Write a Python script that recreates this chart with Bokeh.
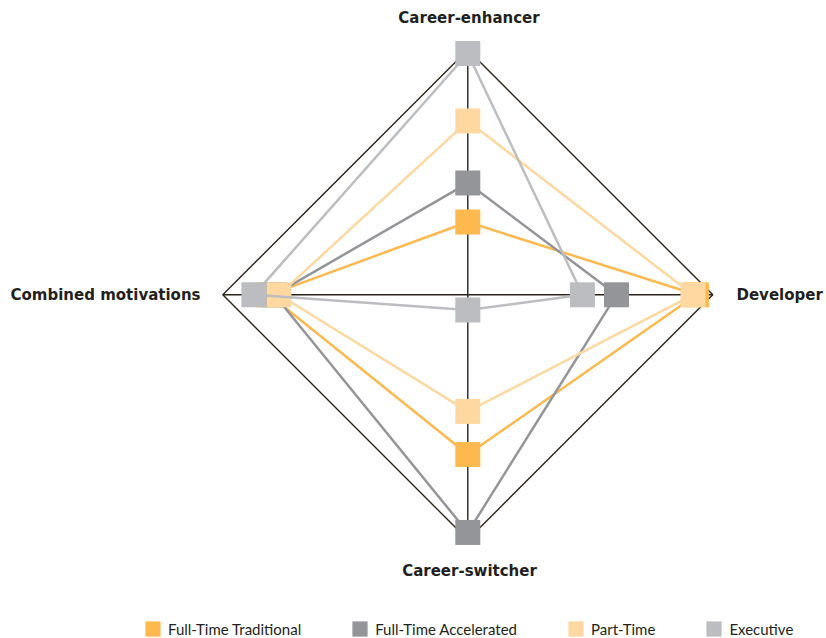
from bokeh.plotting import figure
from bokeh.models import Range1d, Legend, LegendItem, ColumnDataSource
from bokeh.core.properties import value
from bokeh.embed import file_html
from bokeh.resources import INLINE

# Four motivation axes, clockwise from the top
axis_labels = ["Career-enhancer", "Developer", "Career-switcher", "Combined motivations"]
axis_dx = [0, 1, 0, -1]
axis_dy = [1, 0, -1, 0]

# Share of each program type on each axis (outer diamond = 1.0)
series_names = ["Full-Time Traditional", "Full-Time Accelerated", "Part-Time", "Executive"]
full_time_traditional = [0.297, 0.933, 0.652, 0.811]
full_time_accelerated = [0.456, 0.607, 0.970, 0.790]
part_time = [0.709, 0.919, 0.476, 0.771]
executive = [0.985, 0.468, 0.062, 0.873]
series_values = [full_time_traditional, full_time_accelerated, part_time, executive]
series_colors = ["#FDB94E", "#939598", "#FED8A0", "#BCBDC0"]

INK = "#2b2318"
TEXT = "#231f20"

W, H = 826, 638
R_PX = 245.0          # pixels per unit radius
CX, CY = 467.3, 294.3  # centre of the diamond in screen pixels

p = figure(
    width=W, height=H,
    x_range=Range1d(-CX / R_PX, (W - CX) / R_PX),
    y_range=Range1d(-(H - CY) / R_PX, CY / R_PX),
    x_axis_location=None, y_axis_location=None,
    toolbar_location=None, output_backend="svg",
    min_border=0, outline_line_color=None,
)
p.xgrid.visible = False
p.ygrid.visible = False

# Cross axes
p.multi_line(
    xs=[[-1, 1], [0, 0]], ys=[[0, 0], [-1, 1]],
    line_color=INK, line_width=1.4,
)

# Outer diamond
p.line(
    x=axis_dx + [axis_dx[0]], y=axis_dy + [axis_dy[0]],
    line_color=INK, line_width=1.4,
)

# Each program: closed outline plus square markers on every axis
for name, vals, color in zip(series_names, series_values, series_colors):
    xs = [v * dx for v, dx in zip(vals, axis_dx)]
    ys = [v * dy for v, dy in zip(vals, axis_dy)]
    p.line(x=xs + [xs[0]], y=ys + [ys[0]], line_color=color, line_width=2.5)
    p.scatter(x=xs, y=ys, marker="square", size=25,
              fill_color=color, line_color=None)

# Axis titles
lab_src = ColumnDataSource(dict(
    x=axis_dx, y=axis_dy, text=axis_labels,
    xo=[1.2, 23.7, 1.7, -22.3],
    yo=[-32.0, 0.0, 31.5, 0.0],
    align=["center", "left", "center", "right"],
))
p.text(x="x", y="y", text="text", x_offset="xo", y_offset="yo",
       text_align="align", text_baseline="alphabetic",
       text_font=value("DejaVu Sans"), text_font_style="bold",
       text_font_size="15px", text_color=TEXT, source=lab_src)

# Legend swatches: tiny off-frame quads that only serve as legend glyphs
legend_items = []
for name, color in zip(series_names, series_colors):
    r = p.quad(left=[5], right=[5], top=[5], bottom=[5],
               fill_color=color, line_color=None)
    legend_items.append(LegendItem(label=name, renderers=[r]))

legend = Legend(
    items=legend_items, orientation="horizontal",
    location=(143, 0),
    glyph_width=19, glyph_height=19, label_height=19,
    label_standoff=6, spacing=49, padding=0, margin=0,
    border_line_color=None, background_fill_alpha=0,
    label_text_font="Lato", label_text_font_size="15px",
    label_text_color=TEXT,
)
p.add_layout(legend, "center")

open("out.html", "w").write(file_html(p, INLINE))
